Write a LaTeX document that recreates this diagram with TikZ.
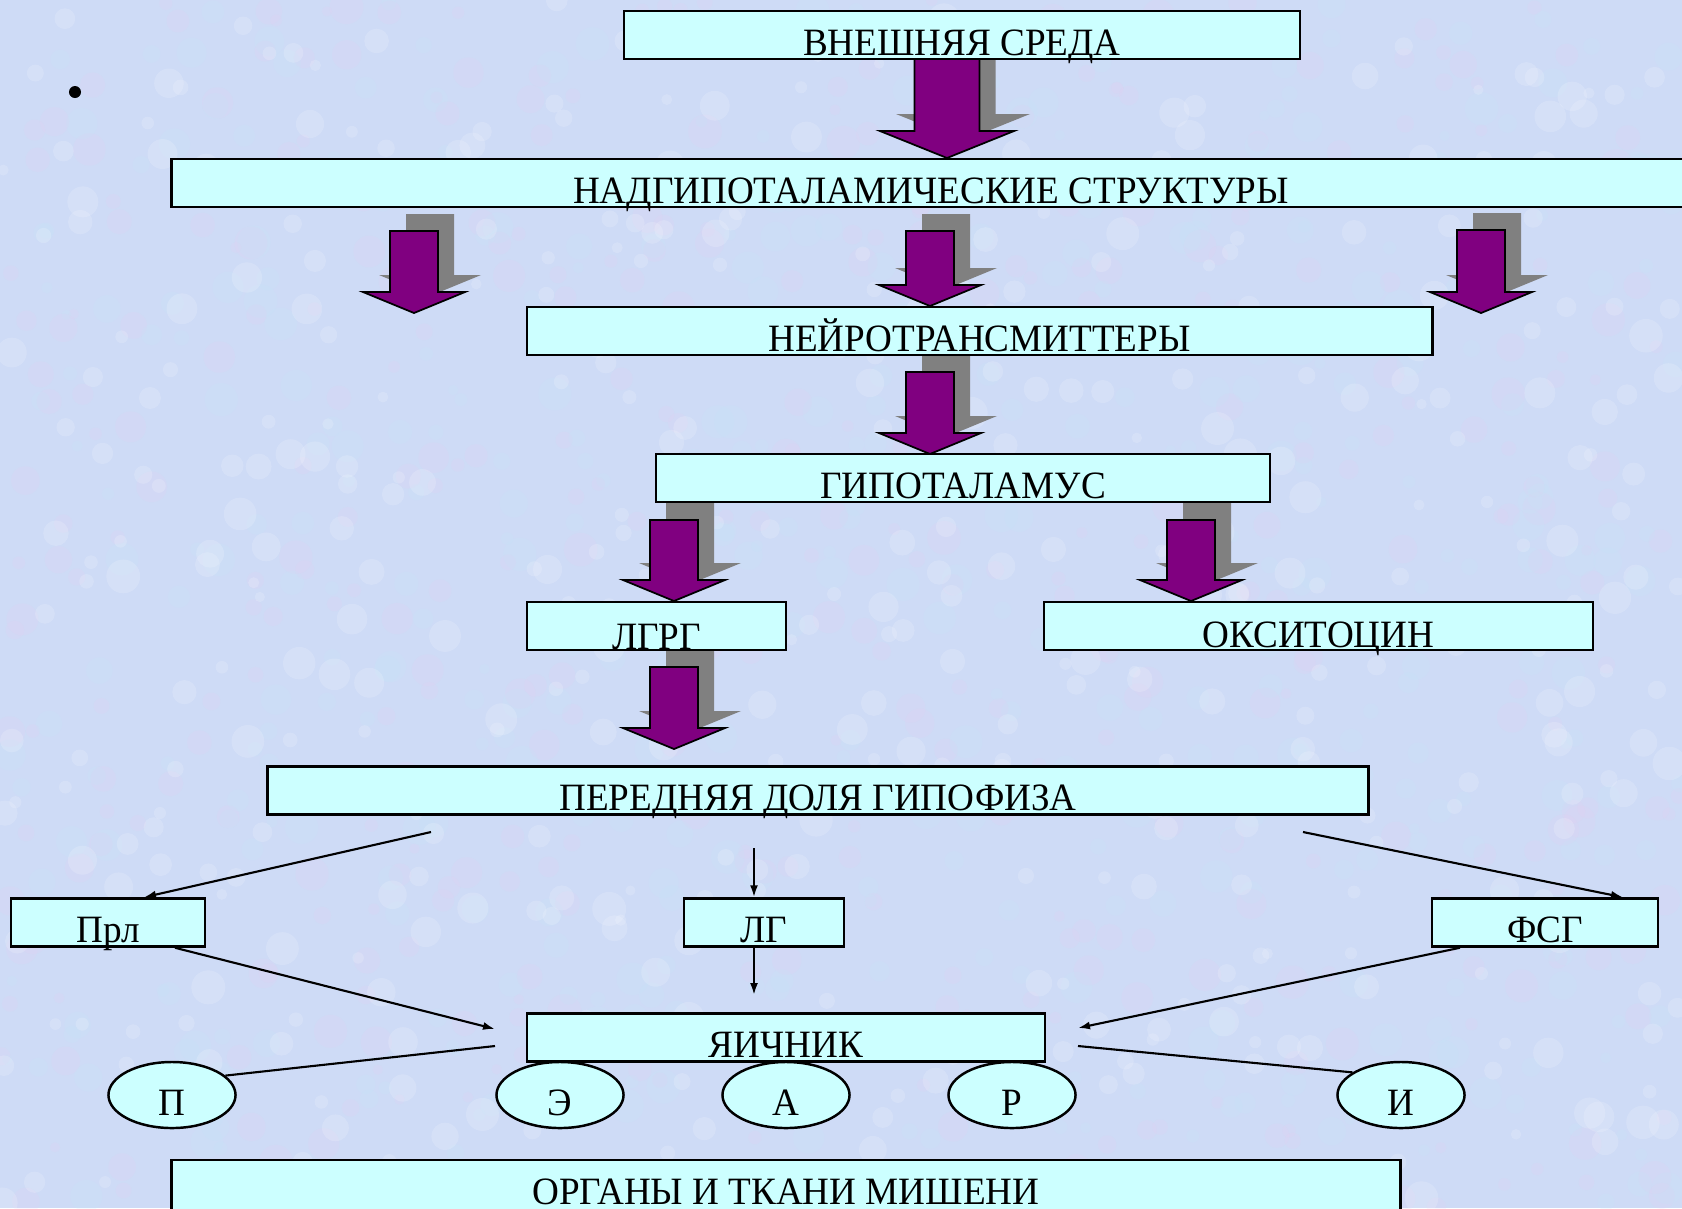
\documentclass[tikz,border=0pt]{standalone}
\usepackage{fontspec}
\setmainfont[FakeStretch=0.96]{Liberation Serif}
\usetikzlibrary{shapes.geometric,arrows.meta,calc}

\definecolor{slidebg}{RGB}{206,219,246}
\definecolor{bgpink}{RGB}{232,204,240}
\definecolor{bgcyan}{RGB}{196,232,250}
\definecolor{boxcyan}{RGB}{204,255,255}
\definecolor{arrowpurple}{RGB}{128,0,128}
\definecolor{arrowgrey}{RGB}{128,128,128}

\pgfdeclarelayer{bg}
\pgfdeclarelayer{fat}
\pgfsetlayers{bg,fat,main}

% block arrow: x centre, shaft top, tip, half shaft, half head, head length
\newcommand{\fatarrow}[6]{%
  \fill[arrowgrey,shift={(16,-17)}] (#1-#4,#2) -- (#1+#4,#2) -- (#1+#4,#3-#6) -- (#1+#5,#3-#6)
    -- (#1,#3) -- (#1-#5,#3-#6) -- (#1-#4,#3-#6) -- cycle;
  \filldraw[fill=arrowpurple,line width=0.5pt] (#1-#4,#2) -- (#1+#4,#2) -- (#1+#4,#3-#6) -- (#1+#5,#3-#6)
    -- (#1,#3) -- (#1-#5,#3-#6) -- (#1-#4,#3-#6) -- cycle;
}

\tikzset{
  box/.style={draw=black,line width=0.7pt,fill=boxcyan,inner xsep=0pt,inner ysep=0pt,
    minimum height=0.48cm,text height=0.44cm,text depth=0.04cm},
  oval/.style={ellipse,draw=black,line width=0.7pt,fill=boxcyan,inner sep=0pt,
    minimum width=1.27cm,minimum height=0.66cm,text height=0.40cm,text depth=0cm},
  link/.style={-{Latex[length=0.12cm,width=0.08cm]},line width=0.6pt},
  plainlink/.style={line width=0.6pt},
}

\begin{document}
\begin{tikzpicture}[x=0.01cm,y=-0.01cm,line join=miter,font=\fontsize{11}{13}\selectfont]
  \useasboundingbox (0,0) rectangle (1682,1208);
  \begin{pgfonlayer}{bg}
    \fill[slidebg] (0,0) rectangle (1682,1208);
    % mottled slide background
    \pgfmathsetseed{11}
    \foreach \c in {bgpink,bgcyan,white}{
      \foreach \i in {1,...,450}{
        \pgfmathsetmacro{\bx}{rnd*1682}
        \pgfmathsetmacro{\by}{rnd*1208}
        \pgfmathsetmacro{\br}{5+rnd*12}
        \fill[\c,opacity=0.16] (\bx,\by) circle[radius=\br];
      }
    }
  \end{pgfonlayer}

  \node[circle,fill=black,inner sep=0pt,minimum size=0.12cm] (dot) at (75,92) {};

  % boxes
  \node[box,minimum width=6.76cm] (vnesh) at (962,35) {ВНЕШНЯЯ СРЕДА};
  \node[box,minimum width=15.18cm] (nadgip) at (931,183) {НАДГИПОТАЛАМИЧЕСКИЕ СТРУКТУРЫ};
  \node[box,minimum width=9.05cm] (neiro) at (979.5,331) {НЕЙРОТРАНСМИТТЕРЫ};
  \node[box,minimum width=6.14cm] (gipot) at (963,478) {ГИПОТАЛАМУС};
  \node[box,minimum width=2.59cm,text height=0.47cm,text depth=0.01cm] (lgrg) at (656.5,626) {ЛГРГ};
  \node[box,minimum width=5.49cm,text height=0.45cm,text depth=0.03cm] (oksi) at (1318.5,626) {ОКСИТОЦИН};
  \node[box,minimum width=11.0cm] (perednyaya) at (818,790.5) {ПЕРЕДНЯЯ ДОЛЯ ГИПОФИЗА};
  \node[box,minimum width=1.94cm] (prl) at (108,922.5) {Прл};
  \node[box,minimum width=1.60cm] (lg) at (764,922.5) {ЛГ};
  \node[box,minimum width=2.26cm] (fsg) at (1545,922.5) {ФСГ};
  \node[box,minimum width=5.18cm] (yaich) at (786,1037.5) {ЯИЧНИК};
  \node[box,minimum width=12.28cm,minimum height=0.52cm,text height=0.44cm,text depth=0.08cm] (organy) at (786,1186) {ОРГАНЫ И ТКАНИ МИШЕНИ};

  % ovals under the ovary
  \node[oval] (ovP) at (172,1095) {П};
  \node[oval] (ovE) at (560,1095) {Э};
  \node[oval] (ovA) at (786,1095) {А};
  \node[oval] (ovR) at (1012,1095) {Р};
  \node[oval] (ovI) at (1401,1095) {И};

  % block arrows behind the boxes
  \begin{pgfonlayer}{fat}
    \fatarrow{947}{59}{158}{32.5}{67}{27}
    \foreach \x/\t/\b in {414/231/313,930/231/306,1481/230/313,930/372/454,674/520/601,1191/520/601,674/667/749}{
      \fatarrow{\x}{\t}{\b}{24}{51}{21}
    }
  \end{pgfonlayer}

  % thin links
  \coordinate (pdL) at (431,832);
  \coordinate (pdM) at (754,848);
  \coordinate (pdR) at (1303,832);
  \coordinate (yaL) at (495,1029);
  \coordinate (yaM) at (754,995);
  \coordinate (yaR) at (1078,1028);
  \coordinate (yaLo) at (495,1046);
  \coordinate (yaRo) at (1078,1046);
  \draw[link] (pdL) -- ($(prl.north)+(36,0)$);
  \draw[link] (pdM) -- (lg.north -| pdM);
  \draw[link] (pdR) -- ($(fsg.north)+(78,0)$);
  \draw[link] ($(prl.south)+(67,0)$) -- (yaL);
  \draw[link] (lg.south -| pdM) -- (yaM);
  \draw[link] ($(fsg.south)+(-85,0)$) -- (yaR);
  \draw[plainlink] (ovP.20) -- (yaLo);
  \draw[plainlink] (yaRo) -- (ovI.155);
\end{tikzpicture}
\end{document}
